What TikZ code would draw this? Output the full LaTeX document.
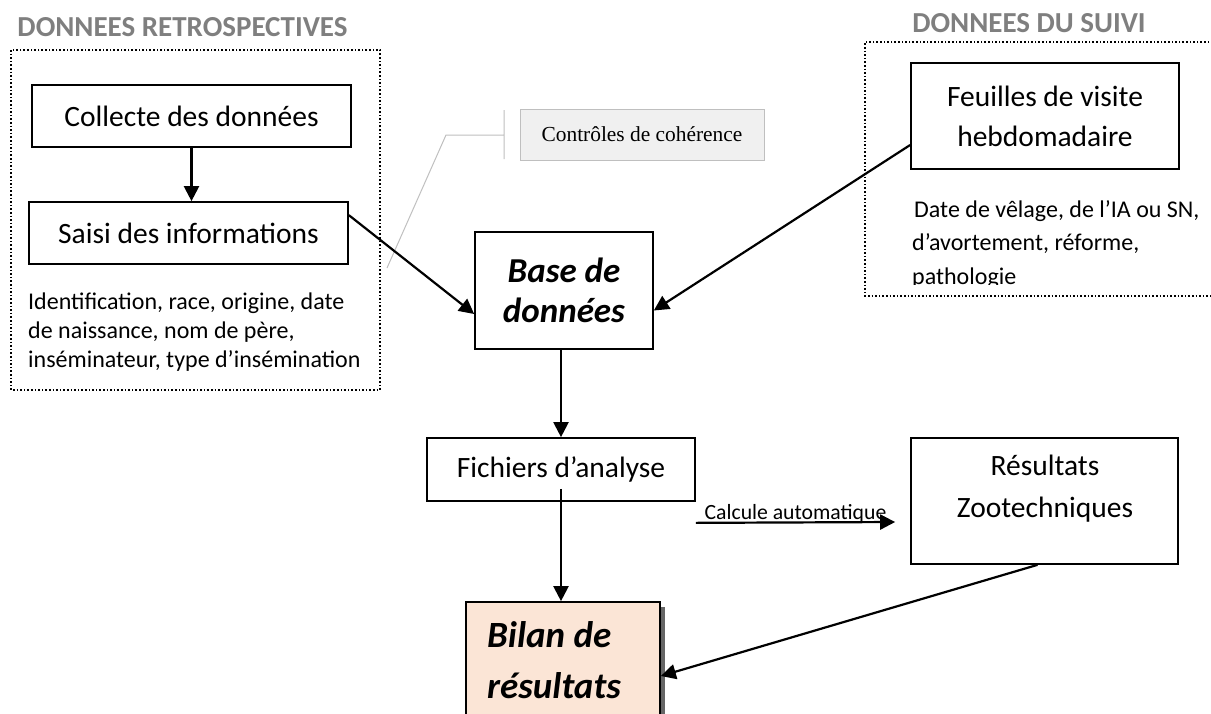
\documentclass[tikz,border=0pt]{standalone}
\usepackage{fontspec}
\setmainfont{Carlito}
\newfontfamily\timesfont{Liberation Serif}
\usetikzlibrary{arrows.meta,shadows}
\definecolor{peach}{HTML}{FBE5D6}
\definecolor{titlegray}{HTML}{7F7F7F}
\newcommand{\fsz}[2]{\fontsize{#1}{#2}\selectfont}

\begin{document}
\begin{tikzpicture}[x=1pt,y=-1pt]
  \useasboundingbox (0,0) rectangle (1211,713);

  % titles and dotted frames
  \begin{scope}[every node/.style={font=\bfseries\fsz{29}{34}, text=titlegray}]
    \node (t1) at (182.5,27) {DONNEES RETROSPECTIVES};
    \node (t2) at (1029,23.5) {DONNEES DU SUIVI};
  \end{scope}
  \draw[dotted, line width=1.6pt] (11,50) rectangle (380,390);
  \draw[dotted, line width=1.6pt] (1220,42) -- (865,42) -- (865,296) -- (1220,296);

  % boxes
  \begin{scope}[every node/.style={draw, line width=1.7pt, inner sep=0pt,
      align=center, font=\fsz{29.5}{40}}]
    \node[minimum width=319, minimum height=62] (1) at (191.5,116) {Collecte des données};
    \node[minimum width=319, minimum height=62] (2) at (188.5,233) {Saisi des informations};
    \node[minimum width=178, minimum height=117, font=\bfseries\itshape\fsz{35}{40}]
      (3) at (564,290.5) {Base de\\données};
    \node[minimum width=268, minimum height=106] (4) at (1045,116) {Feuilles de visite\\hebdomadaire};
    \node[minimum width=268, minimum height=63] (5) at (561,469.5) {Fichiers d’analyse};
    \node[minimum width=267, minimum height=126] (7) at (1044.5,501) {};
    \node[minimum width=194, minimum height=138, fill=peach,
      drop shadow={shadow xshift=5pt, shadow yshift=-5pt, fill=black!60, opacity=1}]
      (6) at (563,671) {};
  \end{scope}

  % texts
  \begin{scope}[every node/.style={inner sep=0pt, align=left, anchor=north west}]
    \node[font=\fsz{24}{29}] (i1) at (28,293)
      {Identification, race, origine, date\\de naissance, nom de père,\\inséminateur, type d’insémination};
    \node[align=center, anchor=center, font=\fsz{29.5}{42}] (r1) at (1045,489) {Résultats\\Zootechniques};
    \node[font=\bfseries\itshape\fsz{37}{51}] (b1) at (487,621) {Bilan de\\résultats};
    \begin{scope}
      \clip (866,43) rectangle (1211,284);
      \node[font=\fsz{24}{33.5}] (d1) at (912,200)
        {\hspace*{2pt}Date de vêlage, de l’IA ou SN,\\d’avortement, réforme,\\pathologie};
    \end{scope}
  \end{scope}

  % coherence note
  \node[draw=black!25, fill=black!6, line width=1pt, minimum width=244, minimum height=51,
    inner sep=0pt, font=\timesfont\fsz{21.4}{25}] (c) at (642,134.5) {Contrôles de cohérence};
  \coordinate (c1) at (504,110);
  \coordinate (c2) at (504,159);
  \coordinate (c3) at (504,135);
  \coordinate (c4) at (446,135);
  \coordinate (c5) at (387,268);
  \draw[black!25, line width=1pt] (c1) -- (c2) (c3) -- (c4) -- (c5);

  % arrows
  \coordinate (a1) at ([yshift=13]5.south);
  \coordinate (a2) at ([yshift=-21]5.south east);
  \coordinate (a3) at ([xshift=-15, yshift=-21]7.west);
  \begin{scope}[every edge/.style={draw, line width=2.2pt,
      -{Triangle[length=15pt, width=15pt]}}]
    \path (1.south) edge (1.south |- 2.north);
    \path ([yshift=-14]2.north east) edge ([yshift=-23.5]3.west);
    \path ([yshift=-29]4.west) edge ([yshift=-20]3.east);
    \path (3.south -| 5.north) edge (5.north);
    \path (a1) edge (a1 |- 6.north);
    \path (a2) edge node[above, inner sep=0pt, yshift=-2pt, font=\fsz{21.7}{24}, text=black]
      (l1) {Calcule automatique} (a3);
    \path ([xshift=-7]7.south) edge ([yshift=-5]6.east);
  \end{scope}
\end{tikzpicture}
\end{document}
